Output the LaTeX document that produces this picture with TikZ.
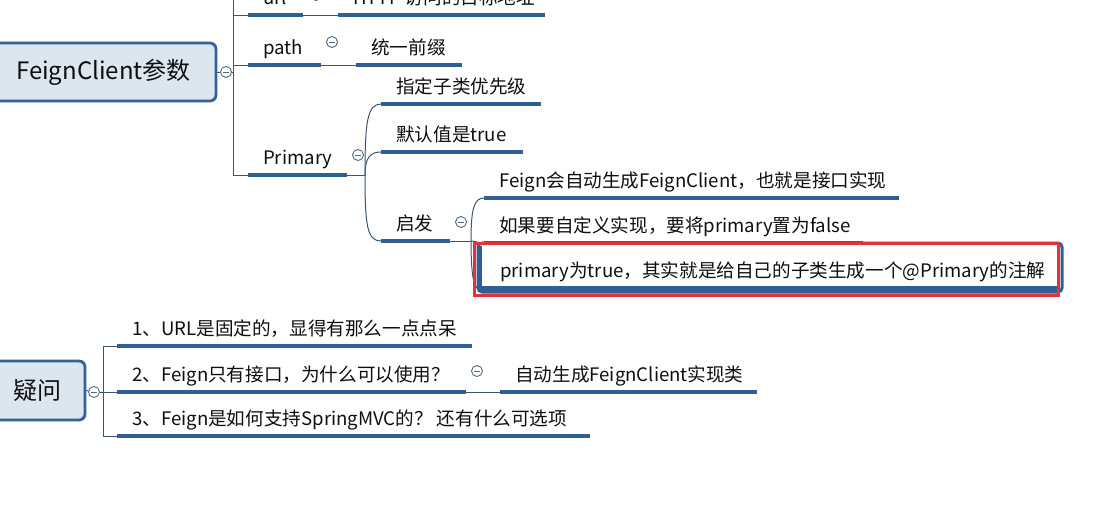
\documentclass[tikz,border=0pt]{standalone}
\usepackage{fontspec}
\setmainfont{Noto Sans CJK SC}
\definecolor{ulc}{HTML}{2F5F93}
\definecolor{conc}{HTML}{3B5570}
\definecolor{boxfill}{HTML}{DCE6EE}
\definecolor{boxdraw}{HTML}{30639A}
\definecolor{togc}{HTML}{4F6A84}
\definecolor{txt}{HTML}{0F0F0F}
\definecolor{redc}{HTML}{E2333A}
\begin{document}
\begin{tikzpicture}[x=1pt,y=-1pt,
  conn/.style={draw=conc, line width=1pt},
  uline/.style={draw=ulc, line width=3.5pt},
  topic/.style={anchor=south west, inner xsep=15pt, inner ysep=6pt, text height=13pt, text depth=4pt, font=\fontsize{18.6}{22}\selectfont, text=txt},
  rootbox/.style={draw=boxdraw, fill=boxfill, line width=2.8pt, rounded corners=6pt, text=txt, inner sep=0pt},
  toggle/.style={circle, draw=togc, fill=white, line width=0.9pt, minimum size=11pt, inner sep=0pt,
    path picture={\draw[togc, line width=0.9pt] ([xshift=-2.6pt]path picture bounding box.center) -- ([xshift=2.6pt]path picture bounding box.center);}},
  selblue/.style={draw=ulc, line width=3pt, rounded corners=4pt},
  redmark/.style={draw=redc, line width=3pt}]
\clip (0,0) rectangle (1098,509);
\fill[white] (0,0) rectangle (1098,509);

% ---------- FeignClient 参数 ----------
\node[rootbox, minimum width=225pt, minimum height=58pt, font=\fontsize{24}{28}\selectfont] (fc) at (103.5,72) {FeignClient参数};
\node[toggle] (tfc) at (226,72) {};
\coordinate (jfc) at (233,72);

\node[topic] (url) at (248,15) {url};
\node[toggle] (turl) at (316,-5) {};
\node[topic] (urlv) at (338,15) {HTTP 访问的目标地址};
\node[topic] (path) at (248,65) {path};
\node[toggle] (tpath) at (332,42) {};
\node[topic] (pathv) at (356,65) {统一前缀};
\node[topic] (prim) at (248,175) {Primary};
\node[toggle] (tprim) at (358,155) {};
\coordinate (jprim) at (365,175);
\node[topic] (p1) at (381,104) {指定子类优先级};
\node[topic] (p2) at (381,152) {默认值是true};
\node[topic] (p3) at (381,241) {启发};
\node[toggle] (tp3) at (461,222) {};
\coordinate (jq) at (471,241);
\node[topic] (q1) at (484,198) {Feign会自动生成FeignClient，也就是接口实现};
\node[topic] (q2) at (484,243) {如果要自定义实现，要将primary置为false};
\node[topic, inner xsep=22pt] (q3) at (478,288) {primary为true，其实就是给自己的子类生成一个@Primary的注解};

% connectors
\draw[conn] (fc.east) -- (tfc);
\draw[conn] (tfc) -- (jfc);
\draw[conn] (jfc) |- (url.south west);
\draw[conn] (jfc) |- (path.south west);
\draw[conn] (jfc) |- (prim.south west);
\draw[conn] (url.south west -| jfc) -- ++(0,-30);
\draw[conn] ([xshift=55pt]url.south west) -- (urlv.south west);
\draw[conn] ([xshift=73pt]path.south west) -- (pathv.south west);
\draw[conn] ([xshift=99pt]prim.south west) -- (jprim);
\draw[conn] (jprim) .. controls +(0,-52) and +(-14,0) .. (p1.south west);
\draw[conn] (jprim) .. controls +(0,-17) and +(-11,0) .. (p2.south west);
\draw[conn] (jprim) .. controls +(0,50) and +(-14,0) .. (p3.south west);
\draw[conn] ([xshift=69pt]p3.south west) -- (jq);
\draw[conn] (jq) .. controls +(0,-32) and +(-10,0) .. (q1.south west);
\draw[conn] (jq) .. controls +(4,0) and +(-6,0) .. (q2.south west);
\draw[conn] (jq) .. controls +(0,34) and +(-4,0) .. (q3.south west);

% underlines
\draw[uline] (url.south west) -- ++(55,0);
\draw[uline] (urlv.south west) -- ++(207,0);
\draw[uline] (path.south west) -- ++(73,0);
\draw[uline] (pathv.south west) -- ++(106,0);
\draw[uline] (prim.south west) -- ++(99,0);
\draw[uline] (p1.south west) -- ++(160,0);
\draw[uline] (p2.south west) -- ++(142,0);
\draw[uline] (p3.south west) -- ++(69,0);
\draw[uline] (q1.south west) -- ++(415,0);
\draw[uline] (q2.south west) -- ++(379,0);

% selected node and red mark
\draw[selblue] (478,243) rectangle (1062,292);
\draw[uline, line width=5.5pt] (480,289) -- (1060,289);
\draw[selblue, line width=4pt, rounded corners=0pt] (479.5,246) -- (479.5,290);
\draw[redmark] (474,243) rectangle (1058,295);

% ---------- 疑问 ----------
\node[rootbox, minimum width=95pt, minimum height=59pt, font=\fontsize{24}{28}\selectfont] (yw) at (37.5,390.5) {疑问};
\node[toggle] (tyw) at (94,392) {};
\coordinate (jyw) at (103,392);
\node[topic] (r1) at (117,346) {1、URL是固定的，显得有那么一点点呆};
\node[topic] (r2) at (117,392) {2、Feign只有接口，为什么可以使用？};
\node[toggle] (tr2) at (477,371) {};
\node[topic] (r2v) at (500,392) {自动生成FeignClient实现类};
\node[topic] (r3) at (117,436) {3、Feign是如何支持SpringMVC的？ 还有什么可选项};

\draw[conn] (yw.east) -- (tyw);
\draw[conn] (tyw) -- (jyw);
\draw[conn] (jyw) |- (r1.south west);
\draw[conn] (jyw) -- (r2.south west);
\draw[conn] (jyw) |- (r3.south west);
\draw[conn] ([xshift=349pt]r2.south west) -- (r2v.south west);

\draw[uline] (r1.south west) -- ++(355,0);
\draw[uline] (r2.south west) -- ++(349,0);
\draw[uline] (r2v.south west) -- ++(257,0);
\draw[uline] (r3.south west) -- ++(473,0);
\end{tikzpicture}
\end{document}
